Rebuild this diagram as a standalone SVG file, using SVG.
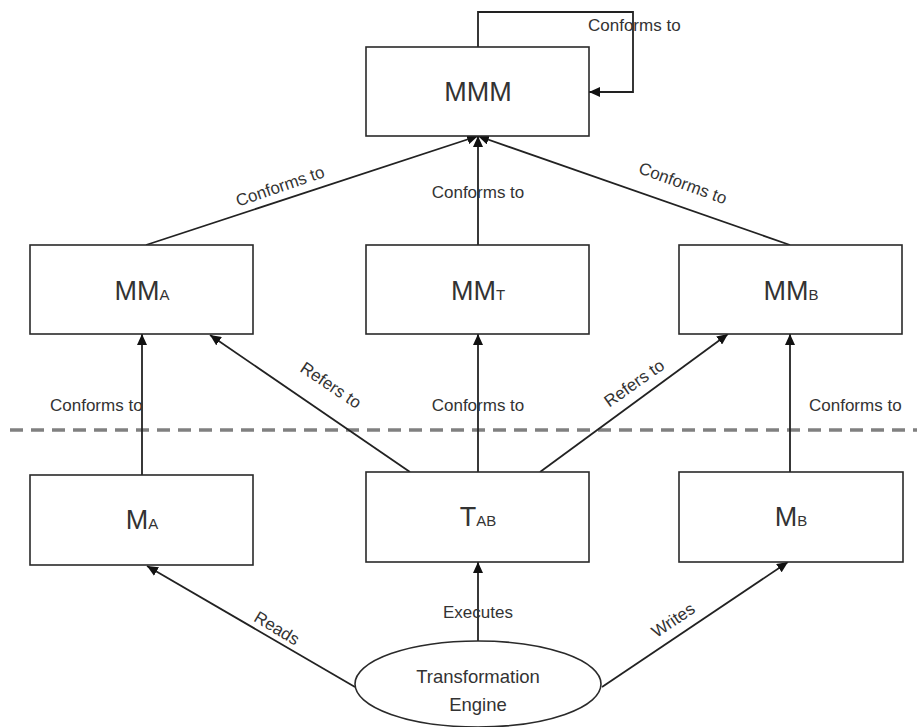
<svg xmlns="http://www.w3.org/2000/svg" width="917" height="727" viewBox="0 0 917 727">
<style>
.box{fill:#fff;stroke:#2a2a2a;stroke-width:1.6}
.ln{fill:none;stroke:#222;stroke-width:1.8;marker-end:url(#ah)}
.lbl{font-family:"Liberation Sans",Arial,sans-serif;font-size:17px;fill:#333}
.big{font-family:"Liberation Sans",Arial,sans-serif;font-size:27px;fill:#333;text-anchor:middle}
.sm{font-size:15px}
.eng{font-family:"Liberation Sans",Arial,sans-serif;font-size:18.5px;fill:#333;text-anchor:middle}
.mid{text-anchor:middle}
</style>
<defs>
<marker id="ah" markerUnits="userSpaceOnUse" markerWidth="12" markerHeight="10" refX="11" refY="5" orient="auto">
<path d="M0,0 L11,5 L0,10 z" fill="#111"/>
</marker>
</defs>
<rect width="917" height="727" fill="#fff"/>
<path d="M10,430 L917,430" stroke="#808080" stroke-width="3.5" stroke-dasharray="13 8" fill="none"/>
<g id="connectors">
<path class="ln" d="M146,245 L478,136"/>
<path class="ln" d="M478,245 L478,136"/>
<path class="ln" d="M790,245 L478,136"/>
<path class="ln" d="M478,47 L478,12 L633,12 L633,92 L589,92"/>
<path class="ln" d="M142,475 L142,334"/>
<path class="ln" d="M410,472 L210,335"/>
<path class="ln" d="M478,472 L478,334"/>
<path class="ln" d="M540,472 L728,334"/>
<path class="ln" d="M790,472 L790,334"/>
<path class="ln" d="M355,687 L147,566"/>
<path class="ln" d="M478,641 L478,562"/>
<path class="ln" d="M602,687 L788,562"/>
</g>
<g id="labels">
<text class="lbl" x="588" y="31">Conforms to</text>
<text class="lbl mid" transform="translate(280,186) rotate(-19)" y="6">Conforms to</text>
<text class="lbl mid" x="478" y="198">Conforms to</text>
<text class="lbl mid" transform="translate(683,183) rotate(20)" y="6">Conforms to</text>
<text class="lbl" x="50" y="411">Conforms to</text>
<text class="lbl mid" x="478" y="411">Conforms to</text>
<text class="lbl" x="809" y="411">Conforms to</text>
<text class="lbl mid" transform="translate(331,385) rotate(34)" y="6">Refers to</text>
<text class="lbl mid" transform="translate(634,383) rotate(-35)" y="6">Refers to</text>
<text class="lbl mid" transform="translate(277,628) rotate(31)" y="6">Reads</text>
<text class="lbl mid" x="478" y="618">Executes</text>
<text class="lbl mid" transform="translate(673,620) rotate(-34)" y="6">Writes</text>
</g>
<g id="MMM"><rect class="box" x="366" y="47" width="223" height="89"/><text class="big" x="478" y="101">MMM</text></g>
<g id="MMA"><rect class="box" x="30" y="245" width="223" height="89"/><text class="big" x="142" y="300">MM<tspan class="sm">A</tspan></text></g>
<g id="MMT"><rect class="box" x="366" y="245" width="223" height="89"/><text class="big" x="478" y="300">MM<tspan class="sm">T</tspan></text></g>
<g id="MMB"><rect class="box" x="679" y="245" width="223" height="89"/><text class="big" x="791" y="300">MM<tspan class="sm">B</tspan></text></g>
<g id="MA"><rect class="box" x="30" y="475" width="223" height="90"/><text class="big" x="142" y="529">M<tspan class="sm">A</tspan></text></g>
<g id="TAB"><rect class="box" x="366" y="472" width="223" height="90"/><text class="big" x="478" y="526">T<tspan class="sm">AB</tspan></text></g>
<g id="MB"><rect class="box" x="679" y="472" width="224" height="90"/><text class="big" x="791" y="526">M<tspan class="sm">B</tspan></text></g>
<g id="Engine"><ellipse class="box" cx="478" cy="684" rx="123" ry="43"/><text class="eng" x="478" y="683">Transformation</text><text class="eng" x="478" y="711">Engine</text></g>
</svg>
